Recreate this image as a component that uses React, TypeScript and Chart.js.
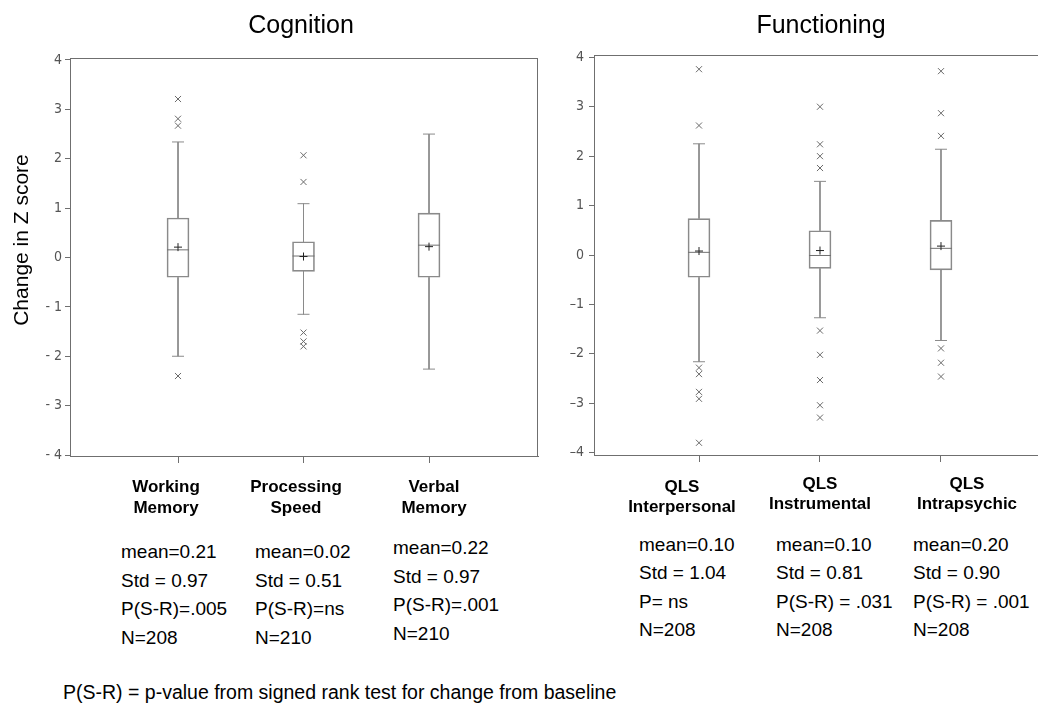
import React, { useEffect, useRef } from "react";
import { Chart, registerables } from "chart.js";

Chart.register(...registerables);

// ---------- data ----------
const yTickValues = [-4, -3, -2, -1, 0, 1, 2, 3, 4];

const cognitionCategories = ["Working Memory", "Processing Speed", "Verbal Memory"];
const cognitionLow = [-2.0, -1.15, -2.26];
const cognitionQ1 = [-0.4, -0.28, -0.4];
const cognitionMedian = [0.155, 0.03, 0.25];
const cognitionQ3 = [0.8, 0.32, 0.9];
const cognitionHigh = [2.34, 1.09, 2.5];
const cognitionMean = [0.21, 0.02, 0.22];
const cognitionOutliers = [
  [3.21, 2.81, 2.67, -2.4],
  [2.07, 1.53, -1.52, -1.7, -1.8],
  [],
];
const cognitionLabels = [["Working", "Memory"], ["Processing", "Speed"], ["Verbal", "Memory"]];
const cognitionStats = [
  ["mean=0.21", "Std = 0.97", "P(S-R)=.005", "N=208"],
  ["mean=0.02", "Std = 0.51", "P(S-R)=ns", "N=210"],
  ["mean=0.22", "Std = 0.97", "P(S-R)=.001", "N=210"],
];

const functioningCategories = ["QLS Interpersonal", "QLS Instrumental", "QLS Intrapsychic"];
const functioningLow = [-2.16, -1.27, -1.73];
const functioningQ1 = [-0.45, -0.27, -0.3];
const functioningMedian = [0.054, -0.01, 0.135];
const functioningQ3 = [0.735, 0.49, 0.7];
const functioningHigh = [2.25, 1.49, 2.14];
const functioningMean = [0.08, 0.09, 0.18];
const functioningOutliers = [
  [3.76, 2.62, -2.28, -2.41, -2.77, -2.91, -3.8],
  [3.0, 2.24, 2.0, 1.76, -1.53, -2.02, -2.53, -3.04, -3.29],
  [3.72, 2.87, 2.41, -1.89, -2.18, -2.46],
];
const functioningLabels = [["QLS", "Interpersonal"], ["QLS", "Instrumental"], ["QLS", "Intrapsychic"]];
const functioningStats = [
  ["mean=0.10", "Std = 1.04", "P= ns", "N=208"],
  ["mean=0.10", "Std = 0.81", "P(S-R) = .031", "N=208"],
  ["mean=0.20", "Std = 0.90", "P(S-R) = .001", "N=208"],
];

const panelTitles = ["Cognition", "Functioning"];
const yAxisTitle = "Change in Z score";
const footnote = "P(S-R) = p-value from signed rank test for change from baseline";

// ---------- styles ----------
const FONT = '"Liberation Sans", Arial, "Noto Sans", sans-serif';
const TICK_FONT = '"Liberation Sans Narrow", "DejaVu Sans Condensed", "Liberation Sans", sans-serif';
const FRAME = "#6f6f6f";
const BOXC = "#8a8a8a";

type Panel = {
  categories: string[];
  low: number[];
  q1: number[];
  median: number[];
  q3: number[];
  high: number[];
  mean: number[];
  outliers: number[][];
};

function buildConfig(p: Panel, opts: any) {
  const idx = p.categories.map((_, i) => i + 1);
  const whiskers: any[] = [];
  idx.forEach((x, i) => {
    whiskers.push({ x, y: p.high[i] }, { x, y: p.q3[i] }, { x, y: null });
    whiskers.push({ x, y: p.q1[i] }, { x, y: p.low[i] }, { x, y: null });
  });
  const caps: any[] = [];
  idx.forEach((x, i) => {
    caps.push({ x, y: p.low[i] }, { x, y: p.high[i] });
  });
  const outl: any[] = [];
  idx.forEach((x, i) => p.outliers[i].forEach((v) => outl.push({ x, y: v })));

  const framePlugin = {
    id: "frameSides",
    afterDatasetsDraw(chart: any) {
      const { ctx, chartArea } = chart;
      ctx.save();
      ctx.strokeStyle = FRAME;
      ctx.lineWidth = 1;
      ctx.beginPath();
      const t = Math.round(chartArea.top) + 0.5;
      ctx.moveTo(chartArea.left, t);
      ctx.lineTo(chartArea.right, t);
      if (opts.rightBorder) {
        const r = Math.round(chartArea.right) - 0.5;
        ctx.moveTo(r, chartArea.top);
        ctx.lineTo(r, chartArea.bottom);
      }
      ctx.stroke();
      ctx.restore();
    },
  };

  return {
    type: "scatter",
    data: {
      datasets: [
        {
          type: "bar",
          data: idx.map((x, i) => ({ x, y: [p.q1[i], p.q3[i]] })),
          barThickness: 22,
          backgroundColor: "rgba(255,255,255,0)",
          borderColor: BOXC,
          borderWidth: 1,
          borderSkipped: false,
          order: 5,
        },
        {
          type: "line",
          data: whiskers,
          borderColor: BOXC,
          borderWidth: 1,
          pointRadius: 0,
          spanGaps: false,
          fill: false,
          order: 4,
        },
        {
          type: "scatter",
          data: caps,
          pointStyle: "line",
          pointRadius: 6,
          borderColor: BOXC,
          borderWidth: 1,
          order: 3,
        },
        {
          type: "scatter",
          data: idx.map((x, i) => ({ x, y: p.median[i] })),
          pointStyle: "line",
          pointRadius: 11,
          borderColor: "#707070",
          borderWidth: 1,
          order: 2,
        },
        {
          type: "scatter",
          data: idx.map((x, i) => ({ x, y: p.mean[i] })),
          pointStyle: "cross",
          pointRadius: 4,
          borderColor: "#222",
          borderWidth: 1,
          order: 1,
        },
        {
          type: "scatter",
          data: outl,
          pointStyle: "crossRot",
          pointRadius: 4.3,
          borderColor: "#6a6a6a",
          borderWidth: 1,
          order: 0,
        },
      ],
    },
    options: {
      animation: false,
      responsive: false,
      events: [],
      layout: { padding: opts.padding, autoPadding: false },
      plugins: { legend: { display: false }, tooltip: { enabled: false } },
      scales: {
        x: {
          type: "linear",
          offset: false,
          min: opts.xMin,
          max: opts.xMax,
          afterBuildTicks: (s: any) => {
            s.ticks = idx.map((v) => ({ value: v }));
          },
          afterFit: (s: any) => {
            s.height = 10;
            s.paddingLeft = 0;
            s.paddingRight = 0;
          },
          ticks: { display: false },
          grid: { display: true, offset: false, drawOnChartArea: false, drawTicks: true, tickLength: 7, color: FRAME },
          border: { display: true, color: FRAME },
        },
        y: {
          type: "linear",
          min: opts.yMin,
          max: opts.yMax,
          afterBuildTicks: (s: any) => {
            s.ticks = yTickValues.map((v) => ({ value: v }));
          },
          afterFit: (s: any) => {
            s.width = opts.yWidth;
          },
          ticks: {
            padding: opts.tickPad,
            color: "#555",
            font: { family: TICK_FONT, size: 14 },
            callback: (v: number) => (v < 0 ? opts.neg + Math.abs(v) : String(v)),
          },
          grid: { display: true, drawOnChartArea: false, drawTicks: true, tickLength: 5, color: FRAME },
          border: { display: true, color: FRAME },
        },
      },
    },
    plugins: [framePlugin],
  };
}

function ChartCanvas(props: { panel: Panel; opts: any; left: number; width: number; height: number }) {
  const ref = useRef<HTMLCanvasElement | null>(null);
  useEffect(() => {
    if (!ref.current) return;
    const chart = new Chart(ref.current, buildConfig(props.panel, props.opts) as any);
    return () => chart.destroy();
  }, []);
  return (
    <canvas
      ref={ref}
      width={props.width}
      height={props.height}
      style={{ position: "absolute", left: props.left, top: 0, width: props.width, height: props.height }}
    />
  );
}

const cognitionPanel: Panel = {
  categories: cognitionCategories,
  low: cognitionLow,
  q1: cognitionQ1,
  median: cognitionMedian,
  q3: cognitionQ3,
  high: cognitionHigh,
  mean: cognitionMean,
  outliers: cognitionOutliers,
};
const functioningPanel: Panel = {
  categories: functioningCategories,
  low: functioningLow,
  q1: functioningQ1,
  median: functioningMedian,
  q3: functioningQ3,
  high: functioningHigh,
  mean: functioningMean,
  outliers: functioningOutliers,
};

// layout (pixel placement of the HTML text blocks)
const cogLabelCenters = [166, 296, 434];
const cogLabelTops = [476, 476, 476];
const funLabelCenters = [682, 820, 967];
const funLabelTops = [476.5, 473.5, 473.5];
const cogStatLefts = [121, 255, 393];
const cogStatTops = [538, 538, 534];
const funStatLefts = [639, 776, 913];
const funStatTops = [531, 531, 531];

export default function App() {
  const txt = (extra: any) => ({ position: "absolute" as const, fontFamily: FONT, color: "#000", whiteSpace: "nowrap" as const, ...extra });
  return (
    <div style={{ position: "fixed", left: 0, top: 0, width: 1038, height: 711, background: "#fff", overflow: "hidden" }}>
      <ChartCanvas
        panel={cognitionPanel}
        left={0}
        width={560}
        height={480}
        opts={{
          padding: { top: 58, right: 22, bottom: 14, left: 0 },
          xMin: 0.1394,
          xMax: 3.8685,
          yMin: -4.02,
          yMax: 4.0405,
          yWidth: 70,
          tickPad: 3,
          neg: "- ",
          rightBorder: true,
        }}
      />
      <ChartCanvas
        panel={functioningPanel}
        left={520}
        width={518}
        height={480}
        opts={{
          padding: { top: 55, right: 0, bottom: 15, left: 0 },
          xMin: 0.1322,
          xMax: 3.8017,
          yMin: -4.047,
          yMax: 4.047,
          yWidth: 74,
          tickPad: 5,
          neg: "\u2013",
          rightBorder: false,
        }}
      />
      <div style={txt({ left: 201, width: 200, top: 11.8, fontSize: 25, lineHeight: "25px", textAlign: "center" })}>{panelTitles[0]}</div>
      <div style={txt({ left: 721, width: 200, top: 11.8, fontSize: 25, lineHeight: "25px", textAlign: "center" })}>{panelTitles[1]}</div>
      <div
        style={txt({
          left: 21 - 110,
          width: 220,
          top: 240 - 12,
          fontSize: 21,
          lineHeight: "24px",
          textAlign: "center",
          transform: "rotate(-90deg)",
          transformOrigin: "50% 50%",
        })}
      >
        {yAxisTitle}
      </div>
      {cognitionLabels.map((lines, i) => (
        <div key={"cl" + i} style={txt({ left: cogLabelCenters[i] - 80, width: 160, top: cogLabelTops[i], fontSize: 17, lineHeight: "21px", fontWeight: "bold", textAlign: "center" })}>
          {lines.map((l, j) => (
            <div key={j}>{l}</div>
          ))}
        </div>
      ))}
      {functioningLabels.map((lines, i) => (
        <div key={"fl" + i} style={txt({ left: funLabelCenters[i] - 80, width: 160, top: funLabelTops[i], fontSize: 17, lineHeight: "20px", fontWeight: "bold", textAlign: "center" })}>
          {lines.map((l, j) => (
            <div key={j}>{l}</div>
          ))}
        </div>
      ))}
      {cognitionStats.map((lines, i) => (
        <div key={"cs" + i} style={txt({ left: cogStatLefts[i], top: cogStatTops[i], fontSize: 19, lineHeight: "28.7px" })}>
          {lines.map((l, j) => (
            <div key={j}>{l}</div>
          ))}
        </div>
      ))}
      {functioningStats.map((lines, i) => (
        <div key={"fs" + i} style={txt({ left: funStatLefts[i], top: funStatTops[i], fontSize: 19, lineHeight: "28.3px" })}>
          {lines.map((l, j) => (
            <div key={j}>{l}</div>
          ))}
        </div>
      ))}
      <div style={txt({ left: 63, top: 681.5, fontSize: 19.5, lineHeight: "20px" })}>{footnote}</div>
    </div>
  );
}
